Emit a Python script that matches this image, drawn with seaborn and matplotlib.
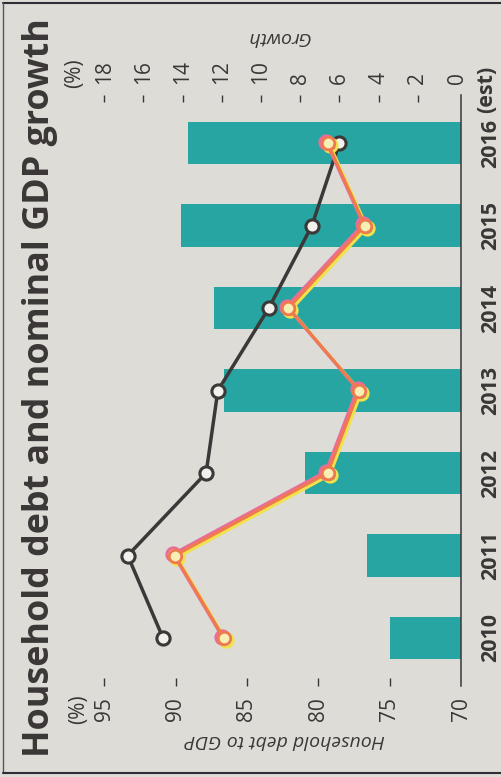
import matplotlib
matplotlib.use("Agg")
import matplotlib.pyplot as plt
from matplotlib import transforms
from matplotlib.lines import Line2D
import seaborn as sns

# ---------------- data ----------------
years = ["2010", "2011", "2012", "2013", "2014", "2015", "2016"]
debt_to_gdp = [75.0, 76.6, 80.9, 86.6, 87.3, 89.6, 89.1]      # bars, left axis (%)
debt_growth = [15.0, 16.8, 12.8, 12.2, 9.6, 7.4, 6.0]        # black line, growth axis (%)
gdp_growth = [11.9, 14.4, 6.6, 5.0, 8.6, 4.7, 6.6]           # orange line, growth axis (%)
debt_ticks = [70, 75, 80, 85, 90, 95]
growth_ticks = [0, 2, 4, 6, 8, 10, 12, 14, 16, 18]
title = "Household debt and nominal GDP growth"
debt_label = "Household debt to GDP"
growth_label = "Growth"

# ---------------- style ----------------
W, H = 502, 777
BG = "#dddcd7"
TXT = "#3b3737"
TEAL = "#27a5a3"
DARK = "#3b3838"
ORANGE = "#ee7a4e"
PINK = "#e96d98"
YELLOW = "#f1e24c"

sns.set_theme(style="white")
plt.rcParams["font.family"] = ["Open Sans", "DejaVu Sans"]
plt.rcParams["text.color"] = TXT

fig = plt.figure(figsize=(W / 100, H / 100), dpi=100, facecolor=BG)

def fx(x):
    return x / W

def fy(y):
    return 1 - y / H

PT = 0.72  # points per pixel at dpi 100

# axes rectangle (image pixel coords): x 100..461, y 95..686
L, R, T, B = 100, 461, 95, 686
ax = fig.add_axes([fx(L), fy(B), (R - L) / W, (B - T) / H])
ax.set_facecolor(BG)

sns.barplot(x=debt_to_gdp, y=years, order=years, orient="h", color=TEAL,
            saturation=1, width=0.51, edgecolor="none", ax=ax)

# scales: debt 14.27 px/unit with 70 at right edge; years 82.5 px apart
ax.set_xlim(70 + (R - L) / 14.27, 70)
ax.set_ylim(0 - (B - 638) / 82.5, 6 + (143 - T) / 82.5)

for s in ["left", "top", "bottom"]:
    ax.spines[s].set_visible(False)
ax.spines["right"].set_color(DARK)
ax.spines["right"].set_linewidth(1.1)

ax.set_xticks(debt_ticks)
ax.set_xticklabels([str(t) for t in debt_ticks])
ax.tick_params(axis="x", direction="in", length=6, width=1.0, color=TXT,
               pad=8, labelsize=15, labelrotation=90, labelcolor=TXT,
               bottom=True, top=False)
ax.set_xlabel("")
ax.set_ylabel("")
ax.tick_params(axis="y", left=False, right=False, labelleft=False,
               labelright=True, length=0, pad=13.5, labelsize=15.5,
               labelrotation=90, labelcolor=TXT)
for lbl in ax.get_yticklabels():
    lbl.set_fontweight("bold")
    lbl.set_va("center")

# growth axis on top
ax2 = ax.twiny()
ax2.set_xlim((457 - L) / 19.6, -(R - 457) / 19.6)
for s in ax2.spines.values():
    s.set_visible(False)
ax2.set_xticks(growth_ticks)
ax2.set_xticklabels([str(t) for t in growth_ticks])
ax2.tick_params(axis="x", direction="in", length=5, width=1.0, color=TXT,
                pad=8, labelsize=15, labelrotation=90, labelcolor=TXT,
                top=True, bottom=False, labeltop=True, labelbottom=False)
# hide the zero tick marks (spine end)
ax2.xaxis.get_major_ticks()[0].tick2line.set_visible(False)
ax.xaxis.get_major_ticks()[0].tick1line.set_visible(False)

ypos = list(range(len(years)))

# black line: household debt growth
sns.lineplot(x=debt_growth, y=ypos, orient="y", sort=False, estimator=None,
             color=DARK, linewidth=2.5, marker="o", markersize=9.5,
             markeredgewidth=2.2, markeredgecolor=DARK,
             markerfacecolor="#f2f1ee", ax=ax2, zorder=3)

# orange line with misregistered print layers
def off(dx, dy):
    return transforms.offset_copy(ax2.transData, fig=fig, x=dx, y=dy, units="dots")

sns.lineplot(x=gdp_growth, y=ypos, orient="y", sort=False, estimator=None,
             color=YELLOW, linewidth=2.4, marker="o", markersize=9.5,
             markeredgewidth=2.2, markeredgecolor=YELLOW, markerfacecolor="none",
             transform=off(2, -2), ax=ax2, zorder=4)
sns.lineplot(x=gdp_growth, y=ypos, orient="y", sort=False, estimator=None,
             color=PINK, linewidth=2.4, marker="o", markersize=9.5,
             markeredgewidth=2.2, markeredgecolor=PINK, markerfacecolor="none",
             transform=off(-1.5, 1.5), ax=ax2, zorder=5)
sns.lineplot(x=gdp_growth, y=ypos, orient="y", sort=False, estimator=None,
             color=ORANGE, linewidth=2.2, marker="o", markersize=9,
             markeredgewidth=2.0, markeredgecolor=ORANGE,
             markerfacecolor="#f7efb4", ax=ax2, zorder=6)
ax2.set_xlabel("")
ax2.set_ylabel("")
ax2.set_ylim(ax.get_ylim())

# "(est)" after 2016
ax.annotate("(est)", xy=(1, 6), xycoords=("axes fraction", "data"),
            xytext=(26 * PT, 54 * PT), textcoords="offset points",
            rotation=90, ha="center", va="center", fontsize=15.5,
            fontweight="bold", color=TXT)

# texts
fig.text(fx(49), fy(757), title, rotation=90, rotation_mode="anchor",
         ha="left", va="baseline", fontsize=25.8, fontweight="bold", color=TXT)
fig.text(fx(285), fy(740), debt_label, rotation=180, ha="center", va="center",
         fontsize=14, fontstyle="italic", color=TXT)
fig.text(fx(278), fy(37), growth_label, rotation=180, ha="center", va="center",
         fontsize=14, fontstyle="italic", color=TXT)
fig.text(fx(79), fy(709), "(%)", rotation=90, ha="center", va="center",
         fontsize=15, color=TXT)
fig.text(fx(75), fy(73), "(%)", rotation=90, ha="center", va="center",
         fontsize=15, color=TXT)

# frame lines of the printed box
fig.add_artist(Line2D([fx(3), fx(502)], [fy(3), fy(3)], color="#2e2d33", lw=1.5))
fig.add_artist(Line2D([fx(3), fx(3)], [fy(3), fy(773)], color="#55555a", lw=1.0))
fig.add_artist(Line2D([fx(3), fx(502)], [fy(773), fy(773)], color="#2e2d33", lw=1.5))

fig.savefig("out.png", dpi=100, facecolor=BG)
